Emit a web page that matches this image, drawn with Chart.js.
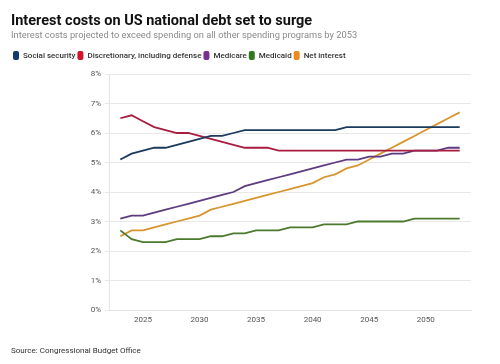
<!DOCTYPE html>
<html>
<head>
<meta charset="utf-8">
<script src="https://cdn.jsdelivr.net/npm/chart.js@4.4.1/dist/chart.umd.min.js"></script>
<style>
  html, body { margin: 0; padding: 0; background: #fff; }
  #wrap { position: relative; width: 500px; height: 364px; overflow: hidden; font-family: Roboto, "Noto Sans", sans-serif; }
  #c { position: absolute; left: 0; top: 0; }
  .t { position: absolute; left: 11px; white-space: nowrap; }
  #title { top: 12px; font-size: 14.5px; font-weight: 700; color: #111; }
  #sub { top: 29px; font-size: 9.3px; color: #8a8a8a; }
  #src { top: 346px; font-size: 8px; color: #333; }
</style>
</head>
<body>
<div id="wrap">
  <canvas id="c" width="500" height="364"></canvas>
  <div class="t" id="title">Interest costs on US national debt set to surge</div>
  <div class="t" id="sub">Interest costs projected to exceed spending on all other spending programs by 2053</div>
  <div class="t" id="src">Source: Congressional Budget Office</div>
</div>
<script>
const years = [2023,2024,2025,2026,2027,2028,2029,2030,2031,2032,2033,2034,2035,2036,2037,2038,2039,2040,2041,2042,2043,2044,2045,2046,2047,2048,2049,2050,2051,2052,2053];
const socialSecurity = [5.1,5.3,5.4,5.5,5.5,5.6,5.7,5.8,5.9,5.9,6.0,6.1,6.1,6.1,6.1,6.1,6.1,6.1,6.1,6.1,6.2,6.2,6.2,6.2,6.2,6.2,6.2,6.2,6.2,6.2,6.2];
const discretionary = [6.5,6.6,6.4,6.2,6.1,6.0,6.0,5.9,5.8,5.7,5.6,5.5,5.5,5.5,5.4,5.4,5.4,5.4,5.4,5.4,5.4,5.4,5.4,5.4,5.4,5.4,5.4,5.4,5.4,5.4,5.4];
const medicare = [3.1,3.2,3.2,3.3,3.4,3.5,3.6,3.7,3.8,3.9,4.0,4.2,4.3,4.4,4.5,4.6,4.7,4.8,4.9,5.0,5.1,5.1,5.2,5.2,5.3,5.3,5.4,5.4,5.4,5.5,5.5];
const medicaid = [2.7,2.4,2.3,2.3,2.3,2.4,2.4,2.4,2.5,2.5,2.6,2.6,2.7,2.7,2.7,2.8,2.8,2.8,2.9,2.9,2.9,3.0,3.0,3.0,3.0,3.0,3.1,3.1,3.1,3.1,3.1];
const netInterest = [2.5,2.7,2.7,2.8,2.9,3.0,3.1,3.2,3.4,3.5,3.6,3.7,3.8,3.9,4.0,4.1,4.2,4.3,4.5,4.6,4.8,4.9,5.1,5.3,5.5,5.7,5.9,6.1,6.3,6.5,6.7];
const xTicks = [2025,2030,2035,2040,2045,2050];
const yTicks = [0,1,2,3,4,5,6,7,8];

const seriesNames = ['Social security','Discretionary, including defense','Medicare','Medicaid','Net interest'];
const seriesData = [socialSecurity, discretionary, medicare, medicaid, netInterest];
const lineColors = ['#1b3a5e','#a81c3e','#5e3b7e','#4b7a2e','#d8952f'];
const boxColors = ['#0f3b6e','#d2142a','#7a2e94','#2f7a1e','#ec8a1c'];

const datasets = seriesNames.map((name, i) => ({
  label: name,
  data: years.map((yr, j) => ({x: yr, y: seriesData[i][j]})),
  borderColor: lineColors[i],
  backgroundColor: boxColors[i],
  borderWidth: 1.8,
  pointRadius: 0,
  tension: 0,
  fill: false
}));

const legendSpacer = {
  id: 'legendSpacer',
  beforeInit(chart) {
    const orig = chart.legend.fit;
    chart.legend.fit = function() { orig.call(this); this.height += 4; };
  }
};

new Chart(document.getElementById('c'), {
  type: 'line',
  data: { datasets },
  plugins: [legendSpacer],
  options: {
    responsive: false,
    animation: false,
    layout: { padding: { left: 11, right: 29, top: 49, bottom: 34 } },
    plugins: {
      legend: {
        display: true,
        position: 'top',
        align: 'start',
        labels: {
          boxWidth: 6,
          boxHeight: 9,
          padding: 2,
          useBorderRadius: true,
          borderRadius: 2,
          color: '#333',
          font: { family: 'Roboto', size: 8, weight: '500' },
          generateLabels(chart) {
            return chart.data.datasets.map((ds, i) => ({
              text: ds.label,
              fillStyle: boxColors[i],
              strokeStyle: boxColors[i],
              lineWidth: 0,
              borderRadius: 2,
              fontColor: '#333',
              datasetIndex: i,
              hidden: false
            }));
          }
        }
      },
      tooltip: { enabled: false }
    },
    scales: {
      x: {
        type: 'linear',
        min: 2022,
        max: 2054,
        afterBuildTicks(scale) { scale.ticks = xTicks.map(v => ({value: v})); },
        afterFit(scale) { scale.height = 20; },
        grid: { display: false, drawTicks: false },
        border: { display: true, color: '#e3e3e3' },
        ticks: {
          color: '#555',
          font: { family: 'Roboto', size: 8 },
          padding: 5,
          maxRotation: 0,
          callback: v => String(v)
        }
      },
      y: {
        min: 0,
        max: 8,
        afterBuildTicks(scale) { scale.ticks = yTicks.map(v => ({value: v})); },
        afterFit(scale) { scale.width = 98; },
        grid: { color: '#e8e8e8', tickLength: 4, lineWidth: 1 },
        border: { display: true, color: '#e3e3e3' },
        ticks: {
          color: '#555',
          font: { family: 'Roboto', size: 8 },
          padding: 4,
          callback: v => v + '%'
        }
      }
    }
  }
});
</script>
</body>
</html>
